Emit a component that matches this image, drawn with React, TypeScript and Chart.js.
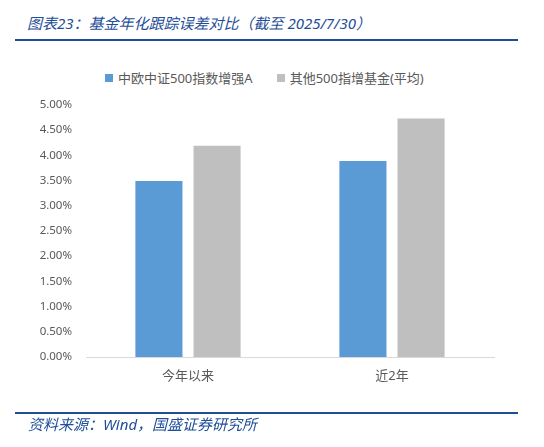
import { useEffect, useRef } from 'react';
import { Chart, registerables } from 'chart.js';

Chart.register(...registerables);

// categories and series (values in %)
const categories = ['今年以来', '近2年'];
const seriesNames = ['中欧中证500指数增强A', '其他500指增基金(平均)'];
const zhongOuValues = [3.49, 3.89];
const peerAvgValues = [4.19, 4.73];
const seriesColors = ['#5b9bd5', '#bfbfbf'];

const FONT = '"Noto Sans", "Noto Sans CJK SC", sans-serif';
const BLUE = '#1f4e99';

export default function App() {
  const canvasRef = useRef<HTMLCanvasElement>(null);
  const chartRef = useRef<Chart | null>(null);

  useEffect(() => {
    if (!canvasRef.current) return;

    if (chartRef.current) {
      chartRef.current.destroy();
    }

    const ctx = canvasRef.current.getContext('2d');
    if (!ctx) return;

    chartRef.current = new Chart(ctx, {
      type: 'bar',
      data: {
        labels: categories,
        datasets: [
          {
            label: seriesNames[0],
            data: zhongOuValues,
            backgroundColor: seriesColors[0],
            borderWidth: 0,
            categoryPercentage: 0.57,
            barPercentage: 0.81
          },
          {
            label: seriesNames[1],
            data: peerAvgValues,
            backgroundColor: seriesColors[1],
            borderWidth: 0,
            categoryPercentage: 0.57,
            barPercentage: 0.81
          }
        ]
      },
      options: {
        responsive: false,
        maintainAspectRatio: false,
        animation: false,
        layout: {
          padding: { top: 105, bottom: 50, left: 0, right: 50 }
        },
        plugins: {
          legend: { display: false },
          tooltip: { enabled: false }
        },
        scales: {
          x: {
            grid: { display: false, drawTicks: false },
            border: { display: true, color: '#d9d9d9', width: 1 },
            ticks: {
              color: '#595959',
              font: { family: FONT, size: 13 },
              padding: 11
            },
            afterFit: (scale) => {
              scale.height = 40;
            }
          },
          y: {
            min: 0,
            max: 5,
            grid: { display: false, drawTicks: false },
            border: { display: false },
            ticks: {
              stepSize: 0.5,
              color: '#595959',
              font: { family: FONT, size: 11.5 },
              padding: 14,
              callback: (v) => `${Number(v).toFixed(2)}%`
            },
            afterFit: (scale) => {
              scale.width = 86;
            }
          }
        }
      }
    });

    return () => {
      if (chartRef.current) {
        chartRef.current.destroy();
        chartRef.current = null;
      }
    };
  }, []);

  return (
    <div
      style={{
        position: 'fixed',
        top: 0,
        left: 0,
        width: 544,
        height: 447,
        background: '#fff',
        fontFamily: FONT,
        overflow: 'hidden'
      }}
    >
      <div
        style={{
          position: 'absolute',
          top: 13,
          left: 27,
          fontSize: 15,
          lineHeight: '20px',
          fontStyle: 'italic',
          color: BLUE,
          whiteSpace: 'nowrap'
        }}
      >
        图表23：基金年化跟踪误差对比（截至 2025/7/30）
      </div>
      <div style={{ position: 'absolute', top: 39, left: 15, width: 503, height: 2, background: BLUE }} />

      <div
        style={{
          position: 'absolute',
          top: 69,
          left: 105,
          display: 'flex',
          alignItems: 'center',
          fontSize: 13,
          lineHeight: '18px',
          color: '#595959',
          whiteSpace: 'nowrap'
        }}
      >
        {seriesNames.map((name, i) => (
          <div key={name} style={{ display: 'flex', alignItems: 'center', marginRight: 24 }}>
            <span style={{ width: 8, height: 8, background: seriesColors[i], marginRight: 5 }} />
            <span>{name}</span>
          </div>
        ))}
      </div>

      <canvas
        ref={canvasRef}
        width={544}
        height={447}
        style={{ position: 'absolute', top: 0, left: 0, width: 544, height: 447 }}
      />

      <div style={{ position: 'absolute', top: 412, left: 15, width: 503, height: 2, background: BLUE }} />
      <div
        style={{
          position: 'absolute',
          top: 414,
          left: 28,
          fontSize: 15,
          lineHeight: '20px',
          fontStyle: 'italic',
          color: BLUE,
          whiteSpace: 'nowrap'
        }}
      >
        资料来源：Wind，国盛证券研究所
      </div>
    </div>
  );
}
